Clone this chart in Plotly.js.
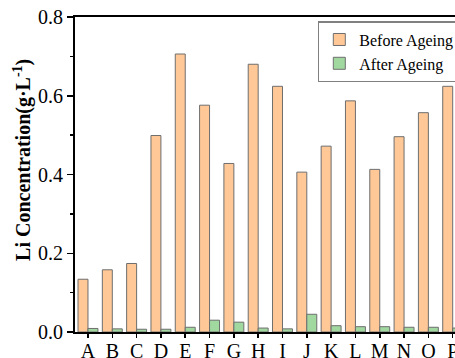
<!DOCTYPE html>
<html>
<head>
<meta charset="utf-8">
<script src="https://cdn.plot.ly/plotly-3.0.1.min.js"></script>
<style>
html, body { margin: 0; padding: 0; overflow: hidden; background: #fff; }
#chart { width: 487px; height: 358px; }
</style>
</head>
<body>
<div id="chart"></div>
<script>
const categories = ["A","B","C","D","E","F","G","H","I","J","K","L","M","N","O","P"];
const beforeAgeing = [0.134, 0.158, 0.174, 0.499, 0.706, 0.576, 0.428, 0.680, 0.624, 0.406, 0.472, 0.587, 0.413, 0.496, 0.557, 0.624];
const afterAgeing  = [0.009, 0.008, 0.007, 0.007, 0.012, 0.030, 0.025, 0.010, 0.008, 0.045, 0.016, 0.0135, 0.0135, 0.012, 0.012, 0.010];
const seriesNames = ["Before Ageing", "After Ageing"];
const yTickVals = [0, 0.2, 0.4, 0.6, 0.8];
const yTickText = ["0.0", "0.2", "0.4", "0.6", "0.8"];

const font = "Liberation Serif, Times New Roman, serif";
const traces = [
  {type: "bar", name: seriesNames[0], x: categories, y: beforeAgeing,
   marker: {color: "#FFC896", line: {color: "#6e6e6e", width: 1}}},
  {type: "bar", name: seriesNames[1], x: categories, y: afterAgeing,
   marker: {color: "#A0D8A0", line: {color: "#6e6e6e", width: 1}}}
];
const layout = {
  width: 487, height: 358,
  margin: {l: 75, r: 10, t: 17, b: 26},
  paper_bgcolor: "#fff", plot_bgcolor: "#fff",
  font: {family: font, color: "#000", size: 20},
  barmode: "group", bargap: 0.18, bargroupgap: 0,
  showlegend: true,
  legend: {x: 0.604, y: 0.987, xanchor: "left", yanchor: "top",
           bgcolor: "#fff", bordercolor: "#808080", borderwidth: 1.5,
           font: {family: font, size: 16, color: "#000"}, tracegroupgap: 0},
  xaxis: {type: "category", range: [-0.534, 16.0], showgrid: false, zeroline: false,
          showline: true, linecolor: "#000", linewidth: 2, mirror: true,
          ticks: "outside", ticklen: 4, tickwidth: 1.5, tickcolor: "#000",
          ticklabelstandoff: -4,
          tickfont: {family: font, size: 20}},
  yaxis: {range: [0, 0.8], showgrid: false, zeroline: false,
          showline: true, linecolor: "#000", linewidth: 2,
          ticks: "outside", ticklen: 6, tickwidth: 1.5, tickcolor: "#000",
          tickvals: yTickVals, ticktext: yTickText,
          tickfont: {family: font, size: 20},
          minor: {dtick: 0.1, ticks: "outside", ticklen: 3, tickwidth: 1.5, tickcolor: "#000"}},
  annotations: [{
    text: "<b>Li Concentration(g·L<sup>-1</sup>)</b>",
    xref: "paper", yref: "paper", x: -0.132, y: 0.546,
    xanchor: "center", yanchor: "middle", textangle: -90, showarrow: false,
    font: {family: font, size: 20, color: "#000"}
  }]
};
Plotly.newPlot("chart", traces, layout, {staticPlot: true, displayModeBar: false});
</script>
</body>
</html>
